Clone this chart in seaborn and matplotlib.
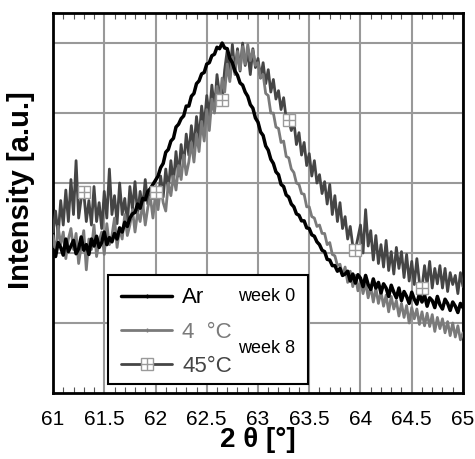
import numpy as np
import pandas as pd
import seaborn as sns
import matplotlib.pyplot as plt
from matplotlib.lines import Line2D
from matplotlib.patches import Rectangle
from matplotlib.ticker import MultipleLocator

# 2 theta sampling grid (deg)
two_theta = np.linspace(61, 65, 161)

# intensities (a.u.)
ar_week0 = [
    2.05, 1.95, 2.15, 2.08, 1.97, 2.20, 2.02, 2.10,
    2.18, 1.99, 2.06, 2.23, 2.04, 2.12, 1.98, 2.20,
    2.10, 2.24, 2.08, 2.15, 2.30, 2.12, 2.22, 2.16,
    2.28, 2.20, 2.36, 2.30, 2.44, 2.38, 2.50, 2.56,
    2.58, 2.70, 2.64, 2.78, 2.76, 2.88, 2.92, 2.98,
    3.04, 3.10, 3.22, 3.28, 3.44, 3.48, 3.60, 3.64,
    3.80, 3.84, 3.92, 3.96, 4.10, 4.10, 4.24, 4.28,
    4.42, 4.46, 4.56, 4.58, 4.70, 4.72, 4.82, 4.84,
    4.94, 4.92, 5.00, 4.93, 4.92, 4.78, 4.72, 4.60,
    4.54, 4.43, 4.40, 4.30, 4.24, 4.12, 4.07, 3.93,
    3.87, 3.73, 3.68, 3.53, 3.47, 3.34, 3.28, 3.16,
    3.12, 2.98, 2.95, 2.83, 2.80, 2.70, 2.66, 2.56,
    2.54, 2.46, 2.46, 2.36, 2.35, 2.26, 2.24, 2.16,
    2.12, 2.04, 2.02, 1.91, 1.90, 1.82, 1.82, 1.74,
    1.78, 1.68, 1.70, 1.74, 1.60, 1.70, 1.57, 1.69,
    1.64, 1.52, 1.68, 1.55, 1.48, 1.63, 1.50, 1.58,
    1.43, 1.56, 1.50, 1.38, 1.54, 1.44, 1.36, 1.50,
    1.32, 1.45, 1.38, 1.28, 1.44, 1.34, 1.27, 1.42,
    1.30, 1.40, 1.24, 1.36, 1.32, 1.22, 1.38, 1.26,
    1.20, 1.34, 1.28, 1.18, 1.30, 1.24, 1.15, 1.28, 1.22,
]

c4_week8 = [
    2.25, 2.00, 2.38, 2.12, 2.30, 1.92, 2.20, 2.35,
    2.05, 2.28, 1.85, 2.10, 2.32, 1.76, 2.20, 2.05,
    2.40, 1.95, 2.18, 2.30, 1.98, 2.42, 2.12, 2.25,
    2.50, 2.08, 2.35, 2.20, 2.55, 2.25, 2.40, 2.62,
    2.30, 2.58, 2.45, 2.72, 2.40, 2.65, 2.80, 2.50,
    2.85, 2.62, 2.95, 2.72, 2.60, 3.00, 2.82, 3.10,
    2.90, 3.25, 3.05, 3.40, 3.12, 3.30, 3.58, 3.30,
    3.70, 3.45, 3.88, 3.60, 4.05, 3.75, 4.20, 4.00,
    4.38, 4.12, 4.50, 4.30, 4.70, 4.45, 4.80, 4.55,
    4.88, 4.62, 4.95, 4.70, 4.98, 4.75, 4.90, 4.68,
    4.72, 4.50, 4.55, 4.28, 4.25, 4.00, 4.00, 3.80,
    3.78, 3.58, 3.60, 3.38, 3.36, 3.20, 3.15, 3.00,
    2.98, 2.85, 2.84, 2.66, 2.66, 2.52, 2.50, 2.38,
    2.40, 2.28, 2.28, 2.12, 2.15, 1.98, 1.96, 1.82,
    1.84, 1.68, 1.80, 1.58, 1.74, 1.52, 1.68, 1.46,
    1.62, 1.42, 1.58, 1.36, 1.52, 1.30, 1.50, 1.28,
    1.45, 1.24, 1.40, 1.16, 1.38, 1.20, 1.32, 1.10,
    1.28, 1.08, 1.25, 1.00, 1.22, 1.06, 1.20, 0.98,
    1.16, 0.96, 1.14, 0.95, 1.12, 0.88, 1.08, 0.92,
    1.06, 0.86, 1.02, 0.82, 1.00, 0.80, 0.96, 0.76, 0.86,
]

c45_week8 = [
    2.30, 2.60, 2.25, 2.75, 2.40, 2.90, 2.45, 3.05,
    2.55, 3.32, 2.50, 2.78, 2.87, 2.45, 2.75, 2.40,
    2.95, 2.45, 2.72, 2.35, 2.88, 2.50, 3.20, 2.55,
    2.82, 2.42, 3.00, 2.55, 2.78, 2.40, 2.95, 2.62,
    3.02, 2.55, 2.88, 2.65, 3.05, 2.70, 2.92, 2.78,
    2.87, 2.70, 3.10, 2.80, 3.20, 2.90, 3.32, 3.00,
    3.45, 3.10, 3.55, 3.25, 3.70, 3.40, 3.82, 3.50,
    3.95, 3.62, 4.10, 3.80, 4.25, 3.95, 4.40, 4.05,
    4.55, 4.25, 4.19, 4.62, 4.90, 4.50, 4.98, 4.58,
    4.92, 4.60, 5.00, 4.68, 4.88, 4.55, 4.92, 4.65,
    4.78, 4.50, 4.72, 4.42, 4.62, 4.30, 4.48, 4.20,
    4.32, 4.05, 4.22, 3.92, 3.90, 3.75, 3.88, 3.55,
    3.72, 3.40, 3.58, 3.25, 3.42, 3.10, 3.32, 3.00,
    3.12, 2.85, 3.02, 2.70, 2.98, 2.55, 2.82, 2.45,
    2.72, 2.35, 2.52, 2.20, 2.38, 2.10, 2.04, 2.22,
    2.40, 2.00, 2.62, 2.10, 2.32, 1.90, 2.25, 1.85,
    2.12, 1.80, 2.18, 1.75, 2.02, 1.70, 2.08, 1.78,
    2.02, 1.65, 1.98, 1.60, 1.88, 1.55, 1.92, 1.58,
    1.50, 1.82, 1.55, 1.88, 1.50, 1.78, 1.56, 1.82,
    1.50, 1.78, 1.45, 1.72, 1.55, 1.68, 1.42, 1.72, 1.52,
]

# points of the 45C curve that carry the square marker
marker_idx = [12, 40, 66, 92, 118, 144]

x_ticks = [61, 61.5, 62, 62.5, 63, 63.5, 64, 64.5, 65]
x_labels = ['61', '61.5', '62', '62.5', '63', '63.5', '64', '64.5', '65']

sns.set_style('white')
plt.rcParams['font.family'] = ['Liberation Sans', 'DejaVu Sans']
plt.rcParams['text.color'] = 'black'
plt.rcParams['axes.labelcolor'] = 'black'
plt.rcParams['xtick.color'] = 'black'

df = pd.DataFrame({'two_theta': two_theta, 'ar': ar_week0,
                   'c4': c4_week8, 'c45': c45_week8})

fig = plt.figure(figsize=(4.75, 4.59), dpi=100)
ax = fig.add_axes([0.1116, 0.1438, 0.8631, 0.8279])

sns.lineplot(data=df, x='two_theta', y='c45', color='#454545', lw=2.0,
             sort=False, estimator=None, ax=ax, zorder=3)
sns.lineplot(data=df, x='two_theta', y='c4', color='#7a7a7a', lw=2.0,
             sort=False, estimator=None, ax=ax, zorder=3.5)
sns.lineplot(data=df, x='two_theta', y='ar', color='black', lw=2.5,
             sort=False, estimator=None, ax=ax, zorder=4)

mk = df.iloc[marker_idx]
ax.plot(mk['two_theta'], mk['c45'], ls='none', marker='s', ms=9,
        mfc='white', mec='#9a9a9a', mew=1, zorder=5)
ax.plot(mk['two_theta'], mk['c45'], ls='none', marker='+', ms=9,
        color='#9a9a9a', mew=1, zorder=5.5)

ax.set_xlim(61, 65)
ax.set_ylim(0, 5.43)
ax.set_xticks(x_ticks)
ax.set_xticklabels(x_labels)
ax.xaxis.set_minor_locator(MultipleLocator(0.1))
ax.set_yticks([1, 2, 3, 4, 5])
ax.set_yticklabels([])
ax.tick_params(axis='x', which='both', direction='in', top=True, bottom=True,
               labelsize=15, pad=12)
ax.tick_params(axis='x', which='major', length=0)
ax.tick_params(axis='x', which='minor', length=4, width=0.8, color='#555555')
ax.tick_params(axis='y', length=0)
ax.grid(True, which='major', color='#999999', lw=1.5)
ax.set_axisbelow(True)
for s in ax.spines.values():
    s.set_color('black')
    s.set_linewidth(2)

ax.set_xlabel('2 θ [°]', fontsize=20, fontweight='bold', labelpad=-1)
ax.set_ylabel('Intensity [a.u.]', fontsize=21, fontweight='bold')
ax.yaxis.set_label_coords(-0.045, 0.535)

# legend box
ax.add_patch(Rectangle((0.134, 0.024), 0.488, 0.286, transform=ax.transAxes,
                       facecolor='white', edgecolor='black', lw=1.5, zorder=7))
handles = [
    Line2D([], [], color='black', lw=2.5, marker='|', ms=3),
    Line2D([], [], color='#7a7a7a', lw=2.0, marker='|', ms=3),
    (Line2D([], [], color='#454545', lw=2.0, marker='s', ms=9, mfc='white',
            mec='#9a9a9a', mew=1),
     Line2D([], [], ls='none', marker='+', ms=9, color='#9a9a9a', mew=1)),
]
leg = ax.legend(handles, ['Ar', '4  °C', '45°C'], loc='center left',
                bbox_to_anchor=(0.155, 0.160), frameon=False, fontsize=16,
                handlelength=2.3, handletextpad=0.45, labelspacing=0.6,
                borderpad=0.2, borderaxespad=0,
                labelcolor=['black', '#7a7a7a', '#454545'])
leg.set_zorder(8)
ax.text(0.452, 0.255, 'week 0', transform=ax.transAxes, fontsize=13,
        va='center', zorder=9)
ax.text(0.452, 0.118, 'week 8', transform=ax.transAxes, fontsize=13,
        va='center', zorder=9)

plt.savefig('out.png', dpi=100)
